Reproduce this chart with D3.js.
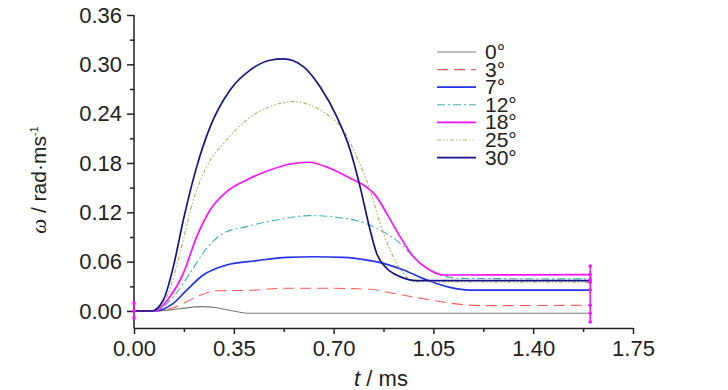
<!DOCTYPE html>
<html lang="en">
<head>
<meta charset="utf-8">
<title>omega vs t</title>
<script src="https://d3js.org/d3.v7.min.js"></script>
<style>
  body { margin: 0; background: #fff; }
  text { font-family: "Liberation Sans Narrow", "Arial Narrow", "Liberation Sans", sans-serif; fill: #222; }
</style>
</head>
<body>
<div id="s"></div>
<script>
var WIDTH = 728;
var HEIGHT = 390;

// series, [t (ms), omega (rad/ms)]
var deg0 = [[0,0],[0.074,0],[0.161,0.0028],[0.232,0.0053],[0.29,0.004],[0.348,0.0],[0.407,-0.0028],[1.6,-0.0028]];
var deg3 = [[0,0],[0.074,0],[0.12,0.002],[0.161,0.0073],[0.22,0.0174],[0.29,0.0247],[0.395,0.025],[0.524,0.0276],[0.687,0.0276],[0.828,0.0264],[0.909,0.0215],[1.027,0.0142],[1.143,0.0081],[1.214,0.0065],[1.6,0.007]];
var deg7 = [[0,0],[0.073,0],[0.138,0.0093],[0.185,0.0255],[0.243,0.0438],[0.325,0.056],[0.43,0.0612],[0.536,0.0653],[0.629,0.066],[0.734,0.0653],[0.828,0.0612],[0.863,0.0588],[0.945,0.0499],[1.027,0.0377],[1.108,0.0288],[1.178,0.0255],[1.6,0.0255]];
var deg12 = [[0,0],[0.072,0],[0.138,0.0174],[0.196,0.0458],[0.255,0.0763],[0.313,0.0945],[0.395,0.1026],[0.5,0.1107],[0.617,0.116],[0.711,0.114],[0.804,0.1075],[0.863,0.0985],[0.933,0.0823],[1.003,0.058],[1.062,0.0458],[1.143,0.0397],[1.6,0.039]];
var deg18 = [[0,0],[0.07,0],[0.126,0.0174],[0.173,0.0458],[0.22,0.0904],[0.267,0.1229],[0.325,0.1451],[0.395,0.1594],[0.477,0.1715],[0.547,0.1788],[0.611,0.1809],[0.687,0.1736],[0.758,0.1614],[0.81,0.152],[0.845,0.1415],[0.886,0.1188],[0.933,0.0904],[0.98,0.066],[1.027,0.052],[1.085,0.0438],[1.6,0.0442]];
var deg25 = [[0,0],[0.068,0],[0.115,0.0174],[0.161,0.07],[0.208,0.135],[0.255,0.1756],[0.325,0.208],[0.395,0.2324],[0.477,0.2486],[0.559,0.2547],[0.617,0.2506],[0.687,0.2364],[0.734,0.22],[0.781,0.1877],[0.828,0.147],[0.863,0.1067],[0.898,0.0742],[0.945,0.0458],[0.98,0.0357],[1.6,0.0349]];
var deg30 = [[0,0],[0.062,0],[0.103,0.0134],[0.138,0.054],[0.173,0.1107],[0.22,0.1756],[0.267,0.224],[0.337,0.2689],[0.407,0.293],[0.477,0.305],[0.524,0.3066],[0.594,0.2973],[0.652,0.273],[0.711,0.2364],[0.758,0.1959],[0.793,0.151],[0.828,0.0985],[0.851,0.07],[0.886,0.052],[0.933,0.0418],[0.992,0.0369],[1.6,0.0369]];

var labels = ["0°", "3°", "7°", "12°", "18°", "25°", "30°"];
var allSeries = [deg0, deg3, deg7, deg12, deg18, deg25, deg30];

// magenta end bars
var markT = [0, 1.6];
var markLo = [-0.0085, -0.0134];
var markHi = [0.0097, 0.0547];

var xTicks = [0, 0.35, 0.70, 1.05, 1.40, 1.75];
var yTicks = [0, 0.06, 0.12, 0.18, 0.24, 0.30, 0.36];

var styles = [
    {color: "#7a7a7a", width: 1.1, dash: null},
    {color: "#ff5a5a", width: 1.1, dash: "11,6"},
    {color: "#2233ee", width: 1.7, dash: null},
    {color: "#3fb3b3", width: 1.1, dash: "8,3,2,3"},
    {color: "#ff10ff", width: 1.7, dash: null},
    {color: "#b5b36a", width: 1.2, dash: "4,2,1.5,2,1.5,2"},
    {color: "#141488", width: 1.7, dash: null}
];

var x = d3.scaleLinear().domain([0, 1.75]).range([134, 633]);
var y = d3.scaleLinear().domain([0, 0.36]).range([311, 15]);
var axisY = 328;

const svg = d3.select("#s").append("svg")
    .attr("width", WIDTH)
    .attr("height", HEIGHT);

// axes
var xAx = svg.append("g").attr("transform", "translate(0," + axisY + ")")
    .call(d3.axisBottom(x).tickValues(xTicks).tickSize(6).tickSizeOuter(0).tickPadding(6)
        .tickFormat(d3.format(".2f")));
svg.append("g").attr("transform", "translate(0," + axisY + ")")
    .call(d3.axisBottom(x).tickValues(d3.range(0.175, 1.75, 0.35)).tickSize(4).tickSizeOuter(0).tickFormat(""))
    .select(".domain").remove();

var yAx = svg.append("g").attr("transform", "translate(134,0)")
    .call(d3.axisLeft(y).tickValues(yTicks).tickSize(7).tickSizeOuter(0).tickPadding(5)
        .tickFormat(d3.format(".2f")));
svg.append("g").attr("transform", "translate(134,0)")
    .call(d3.axisLeft(y).tickValues(d3.range(0.03, 0.36, 0.06)).tickSize(4).tickSizeOuter(0).tickFormat(""))
    .select(".domain").remove();
// y axis runs down to the x axis
yAx.select(".domain").attr("d", "M0," + y(0.36) + "V" + axisY);

svg.selectAll(".domain, .tick line").attr("stroke", "#222").attr("stroke-width", 1.5);
svg.selectAll(".tick text").attr("font-size", 22).attr("fill", "#222")
    .style("font-family", "'Liberation Sans Narrow', 'Arial Narrow', sans-serif");

// lines
var line = d3.line()
    .x(d => x(d[0]))
    .y(d => y(d[1]))
    .curve(d3.curveMonotoneX);

allSeries.forEach(function(s, i) {
    svg.append("path")
        .datum(s)
        .attr("d", line)
        .attr("fill", "none")
        .attr("stroke", styles[i].color)
        .attr("stroke-width", styles[i].width)
        .attr("stroke-dasharray", styles[i].dash);
});

// magenta bars
markT.forEach(function(t, i) {
    svg.append("line")
        .attr("x1", x(t)).attr("x2", x(t))
        .attr("y1", y(markLo[i])).attr("y2", y(markHi[i]))
        .attr("stroke", "#ff10ff").attr("stroke-width", 1.6);
    var vals = [markLo[i], markHi[i]];
    if (i == 0) vals.push(0);
    else allSeries.forEach(s => vals.push(s[s.length - 1][1]));
    vals.forEach(function(v) {
        svg.append("circle").attr("cx", x(t)).attr("cy", y(v)).attr("r", 1.8).attr("fill", "#ff10ff");
    });
});

// legend (labels sit tight, as in the original)
var lg = svg.append("g");
labels.forEach(function(lab, i) {
    var ly = 52 + i * 17.6;
    lg.append("line")
        .attr("x1", 437).attr("x2", 476).attr("y1", ly).attr("y2", ly)
        .attr("stroke", styles[i].color)
        .attr("stroke-width", styles[i].width)
        .attr("stroke-dasharray", styles[i].dash);
    lg.append("text")
        .attr("x", 485).attr("y", ly + 7)
        .attr("font-size", 21)
        .text(lab);
});

// axis titles
var xt = svg.append("text")
    .attr("x", 381).attr("y", 386)
    .attr("text-anchor", "middle")
    .attr("font-size", 22);
xt.append("tspan").attr("font-style", "italic").text("t");
xt.append("tspan").text(" / ms");

var yt = svg.append("text")
    .attr("transform", "translate(46,180) rotate(-90)")
    .attr("text-anchor", "middle")
    .attr("font-size", 21);
yt.append("tspan").attr("font-style", "italic").style("font-family", "'Liberation Serif', serif").text("ω");
yt.append("tspan").text(" / rad·ms");
yt.append("tspan").attr("dy", -8).attr("font-size", 11).text("-1");
</script>
</body>
</html>
